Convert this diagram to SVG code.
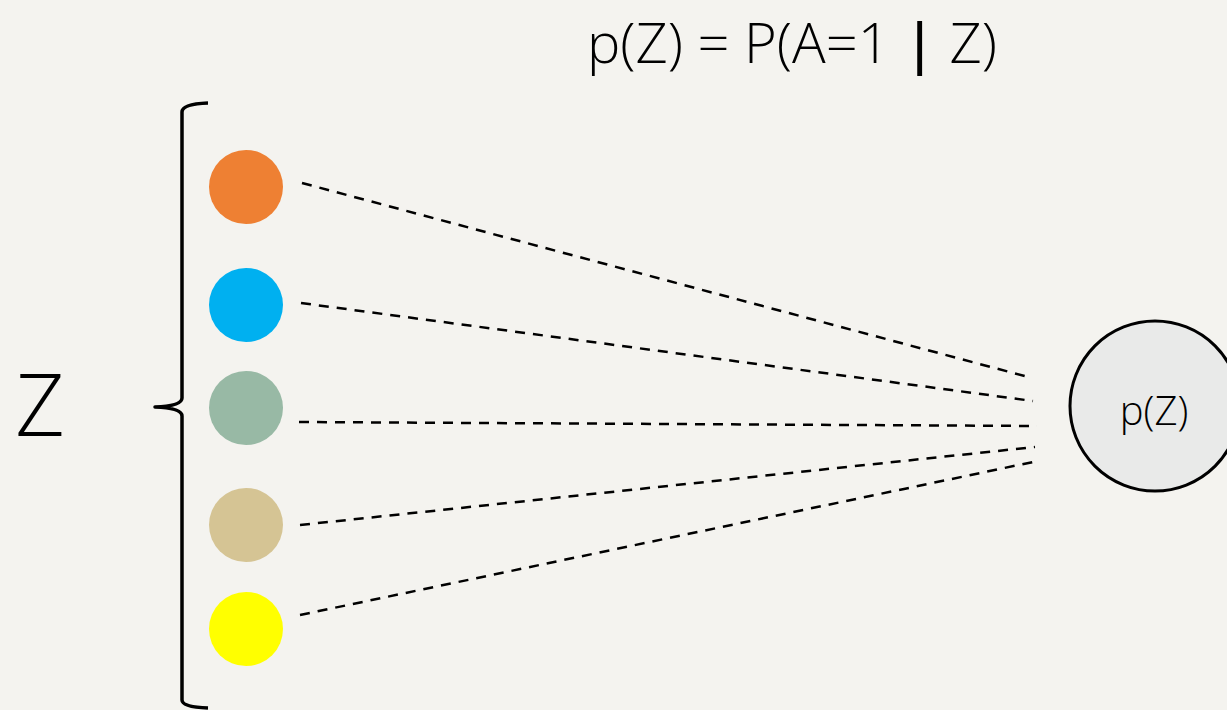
<svg xmlns="http://www.w3.org/2000/svg" width="1227" height="710" viewBox="0 0 1227 710">
<style>
.bg{fill:#f4f3ef}
.dot{stroke:none}
.conn{stroke:#000;stroke-width:2.5;stroke-dasharray:10 8;fill:none}
.brace{stroke:#000;stroke-width:3.5;fill:none;stroke-linejoin:round}
.lbl{font-family:"Open Sans","Liberation Sans",sans-serif;font-weight:300;fill:#000}
</style>
<rect class="bg" x="0" y="0" width="1227" height="710"/>
<g id="title"><text class="lbl" x="792" y="63" font-size="56" text-anchor="middle">p(Z) = P(A=1 <tspan font-weight="600">|</tspan> Z)</text></g>
<g id="z-label"><text class="lbl" x="40" y="436" font-size="86" text-anchor="middle">Z</text></g>
<g id="brace"><path class="brace" d="M208,103 Q182,104 182,112 L182,398 Q182,406 155,407 Q182,408 182,416 L182,700 Q182,707 208,708"/></g>
<g id="connectors">
<line class="conn" x1="302" y1="183" x2="1032" y2="378"/>
<line class="conn" x1="301" y1="303" x2="1033" y2="401"/>
<line class="conn" x1="299" y1="422" x2="1037" y2="426"/>
<line class="conn" x1="300" y1="525" x2="1035" y2="447"/>
<line class="conn" x1="300" y1="615" x2="1033" y2="462"/>
</g>
<g id="z1"><circle class="dot" cx="246" cy="187" r="37" fill="#ee8033"/></g>
<g id="z2"><circle class="dot" cx="246" cy="305" r="37" fill="#00b0f0"/></g>
<g id="z3"><circle class="dot" cx="246" cy="408" r="37" fill="#98b9a5"/></g>
<g id="z4"><circle class="dot" cx="246" cy="525" r="37" fill="#d5c494"/></g>
<g id="z5"><circle class="dot" cx="246" cy="629" r="37" fill="#ffff00"/></g>
<g id="pz"><circle cx="1155" cy="406" r="85" fill="#e9eae9" stroke="#000" stroke-width="3"/>
<text class="lbl" x="1154" y="425" font-size="40" text-anchor="middle" fill="#222">p(Z)</text></g>
</svg>
